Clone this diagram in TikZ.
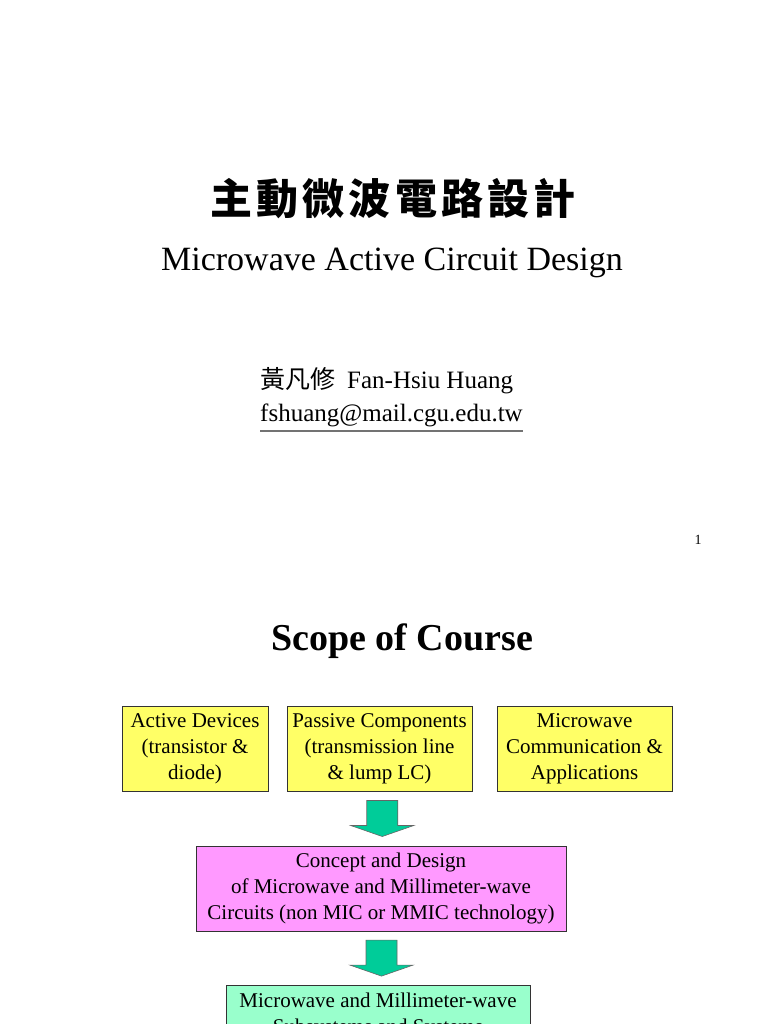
\documentclass[tikz,border=0pt]{standalone}
\usepackage{fontspec}
\setmainfont{Liberation Serif}
\newfontfamily\cjk{Noto Sans CJK TC}
\usetikzlibrary{calc}
\definecolor{topicyellow}{HTML}{FFFF66}
\definecolor{corepink}{HTML}{FF99FF}
\definecolor{sysgreen}{HTML}{99FFCC}
\definecolor{arrowgreen}{HTML}{00CC99}
\tikzset{
  topicbox/.style ={draw=black!80,fill=topicyellow,align=center,inner sep=0pt,
                    font=\fontsize{21}{26}\selectfont,minimum height=85pt},
  corebox/.style  ={topicbox,fill=corepink},
  sysbox/.style   ={draw=black!80,fill=sysgreen,align=center,inner xsep=0pt,inner ysep=8pt,
                    font=\fontsize{21}{26}\selectfont},
  downarrow/.style={draw=black!60,fill=arrowgreen,line width=0.6pt,line join=miter},
}

\begin{document}
\begin{tikzpicture}[x=1pt,y=-1pt]
\fill[white] (0,0) rectangle (768,1024);
\clip (0,0) rectangle (768,1024);
% ---- title slide ----
\node[font=\cjk\bfseries\fontsize{42}{42}\selectfont] (title) at (393,199)
  {\addfontfeature{LetterSpace=10}主動微波電路設計};
\node[anchor=base,font=\fontsize{34}{40}\selectfont] (subtitle) at (392,270)
  {Microwave Active Circuit Design};
\node[anchor=base west,inner sep=0pt,font=\fontsize{25}{30}\selectfont] (author) at (260,388)
  {{\cjk 黃凡修}\hspace{12pt}Fan-Hsiu Huang};
\node[anchor=base west,inner sep=0pt,font=\fontsize{25}{30}\selectfont] (email) at (260,421)
  {fshuang@mail.cgu.edu.tw};
\draw[black!55,line width=1.3pt] ($(email.base west)+(0,10)$) -- ($(email.base east)+(0,10)$);
\node[anchor=base,font=\fontsize{14}{16}\selectfont] (page) at (698,544) {1};
% ---- scope of course ----
\node[anchor=base,font=\bfseries\fontsize{38}{44}\selectfont] (scope) at (402,650) {Scope of Course};
\node[topicbox,minimum width=146pt] (active)  at (195,748.5)   {Active Devices\\(transistor \&\\diode)};
\node[topicbox,minimum width=185pt] (passive) at (379.5,748.5) {Passive Components\\(transmission line\\\& lump LC)};
\node[topicbox,minimum width=175pt] (apps)    at (584.5,748.5) {Microwave\\Communication \&\\Applications};
\node[corebox,minimum width=370pt]  (concept) at (381,888.5)
  {Concept and Design\\of Microwave and Millimeter-wave\\Circuits (non MIC or MMIC technology)};
\node[sysbox,anchor=north,minimum width=304pt] (subsys) at (378,985)
  {Microwave and Millimeter-wave\\Subsystems and Systems};
% ---- block arrows ----
\foreach \s/\d in {passive/concept,concept/subsys}{
  \coordinate (m) at ($(\s.south)!0.5!(\d.north)$);
  \draw[downarrow] ([xshift=2pt]m) ++(-15.5,-18) -- ++(31,0) -- ++(0,25) -- ++(16,0)
    -- ++(-31.5,11) -- ++(-31.5,-11) -- ++(16,0) -- cycle;
}
\end{tikzpicture}
\end{document}
